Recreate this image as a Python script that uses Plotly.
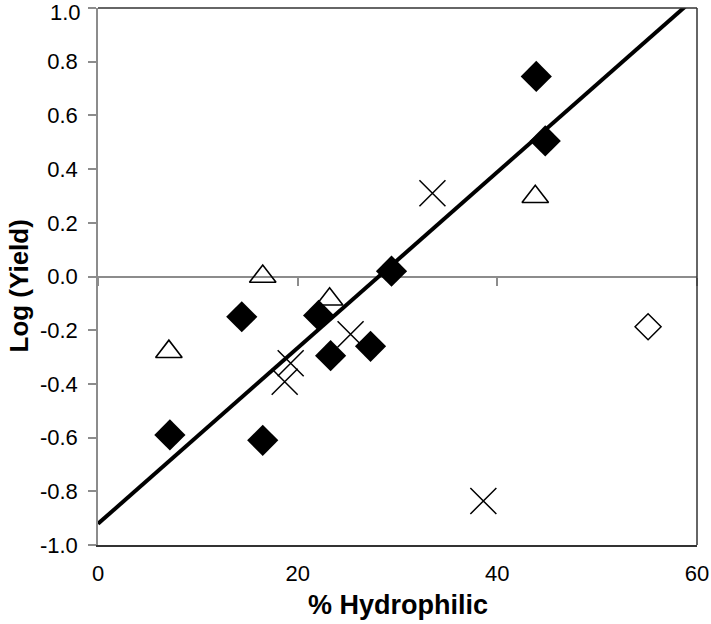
import plotly.graph_objects as go

# Data
diamond_x = [7.2, 14.4, 16.5, 22.1, 23.3, 27.3, 29.4, 43.9, 44.8]
diamond_y = [-0.59, -0.15, -0.61, -0.145, -0.295, -0.26, 0.02, 0.745, 0.505]

triangle_x = [7.1, 16.5, 23.2, 43.8]
triangle_y = [-0.28, 0.0, -0.085, 0.297]

cross_x = [33.5, 25.3, 19.3, 18.7, 38.6]
cross_y = [0.31, -0.215, -0.323, -0.392, -0.836]

open_diamond_x = [55.1]
open_diamond_y = [-0.187]

fit_intercept = -0.921
fit_slope = 0.03275
fit_x = [0, 60]

x_ticks = [0, 20, 40, 60]
x_tick_labels = ["0", "20", "40", "60"]
y_ticks = [-1.0, -0.8, -0.6, -0.4, -0.2, 0.0, 0.2, 0.4, 0.6, 0.8, 1.0]
y_tick_labels = ["-1.0", "-0.8", "-0.6", "-0.4", "-0.2", "0.0", "0.2", "0.4", "0.6", "0.8", "1.0"]

FONT = "Liberation Sans, Arial, sans-serif"
GRAY = "#8c8c8c"
DARK = "#333333"

fit_y = [fit_intercept + fit_slope * v for v in fit_x]

# the top label is drawn as an annotation nudged down so it is not clipped
axis_tick_text = y_tick_labels[:-1] + [""]

fig = go.Figure()

fig.add_trace(go.Scatter(
    x=fit_x, y=fit_y, mode="lines", xaxis="x2",
    line=dict(color="black", width=4), showlegend=False, hoverinfo="skip"))

fig.add_trace(go.Scatter(
    x=triangle_x, y=triangle_y, mode="markers",
    marker=dict(symbol="triangle-up-open", size=23, color="black", line=dict(width=1.6, color="black")),
    showlegend=False))

fig.add_trace(go.Scatter(
    x=cross_x, y=cross_y, mode="markers",
    marker=dict(symbol="x-thin-open", size=26, color="black", line=dict(width=1.5, color="black")),
    showlegend=False))

fig.add_trace(go.Scatter(
    x=open_diamond_x, y=open_diamond_y, mode="markers",
    marker=dict(symbol="diamond-open", size=20, color="black", line=dict(width=1.5, color="black")),
    showlegend=False))

fig.add_trace(go.Scatter(
    x=diamond_x, y=diamond_y, mode="markers",
    marker=dict(symbol="diamond", size=24, color="black", line=dict(width=0)),
    showlegend=False))

fig.update_layout(
    width=711, height=624,
    margin=dict(l=98, r=14, t=8, b=79, autoexpand=False),
    paper_bgcolor="white", plot_bgcolor="white",
    font=dict(family=FONT, size=22, color="black"),
    xaxis=dict(
        range=[0, 60], tickvals=x_ticks, ticktext=x_tick_labels,
        showgrid=False, zeroline=False, ticks="", automargin=False,
        showline=True, linecolor=DARK, linewidth=1.5,
        ticklabelstandoff=8, ticklabeloverflow="allow",
        tickfont=dict(family=FONT, size=22, color="black"),
    ),
    xaxis2=dict(
        range=[0, 60], overlaying="x", anchor="free", position=0.5, side="bottom",
        tickvals=x_ticks, showticklabels=False, ticks="outside", ticklen=8, automargin=False,
        tickcolor=GRAY, tickwidth=1.5, showgrid=False, zeroline=False, showline=False,
    ),
    yaxis=dict(
        range=[-1, 1], tickvals=y_ticks, ticktext=axis_tick_text,
        showgrid=False, zeroline=True, zerolinecolor=GRAY, zerolinewidth=1.5,
        ticks="outside", ticklen=8, tickcolor=GRAY, tickwidth=1.5, automargin=False,
        showline=True, linecolor=GRAY, linewidth=1.5,
        ticklabelstandoff=6, ticklabeloverflow="allow",
        tickfont=dict(family=FONT, size=22, color="black"),
    ),
    shapes=[
        dict(type="line", xref="paper", yref="paper", x0=0, x1=1, y0=1, y1=1,
             line=dict(color=DARK, width=1.5), layer="above"),
        dict(type="line", xref="paper", yref="paper", x0=1, x1=1, y0=0, y1=1,
             line=dict(color=DARK, width=1.5), layer="above"),
    ],
    annotations=[
        dict(text=y_tick_labels[-1], xref="paper", yref="y", x=0, y=y_ticks[-1],
             xshift=-15, yshift=-4, showarrow=False, xanchor="right", yanchor="middle",
             font=dict(family=FONT, size=22, color="black")),
        dict(text="<b>% Hydrophilic</b>", xref="paper", yref="paper", x=0.5, y=0,
             yshift=-60, showarrow=False, xanchor="center", yanchor="middle",
             font=dict(family=FONT, size=27, color="black")),
        dict(text="<b>Log (Yield)</b>", xref="paper", yref="paper", x=0, y=0.5,
             xshift=-80, yshift=-10, textangle=-90, showarrow=False,
             xanchor="center", yanchor="middle",
             font=dict(family=FONT, size=26, color="black")),
    ],
)

fig.write_html(
    "out.html",
    config={"displayModeBar": False},
    post_script="document.body.style.margin='0';document.body.style.overflow='hidden';",
)
